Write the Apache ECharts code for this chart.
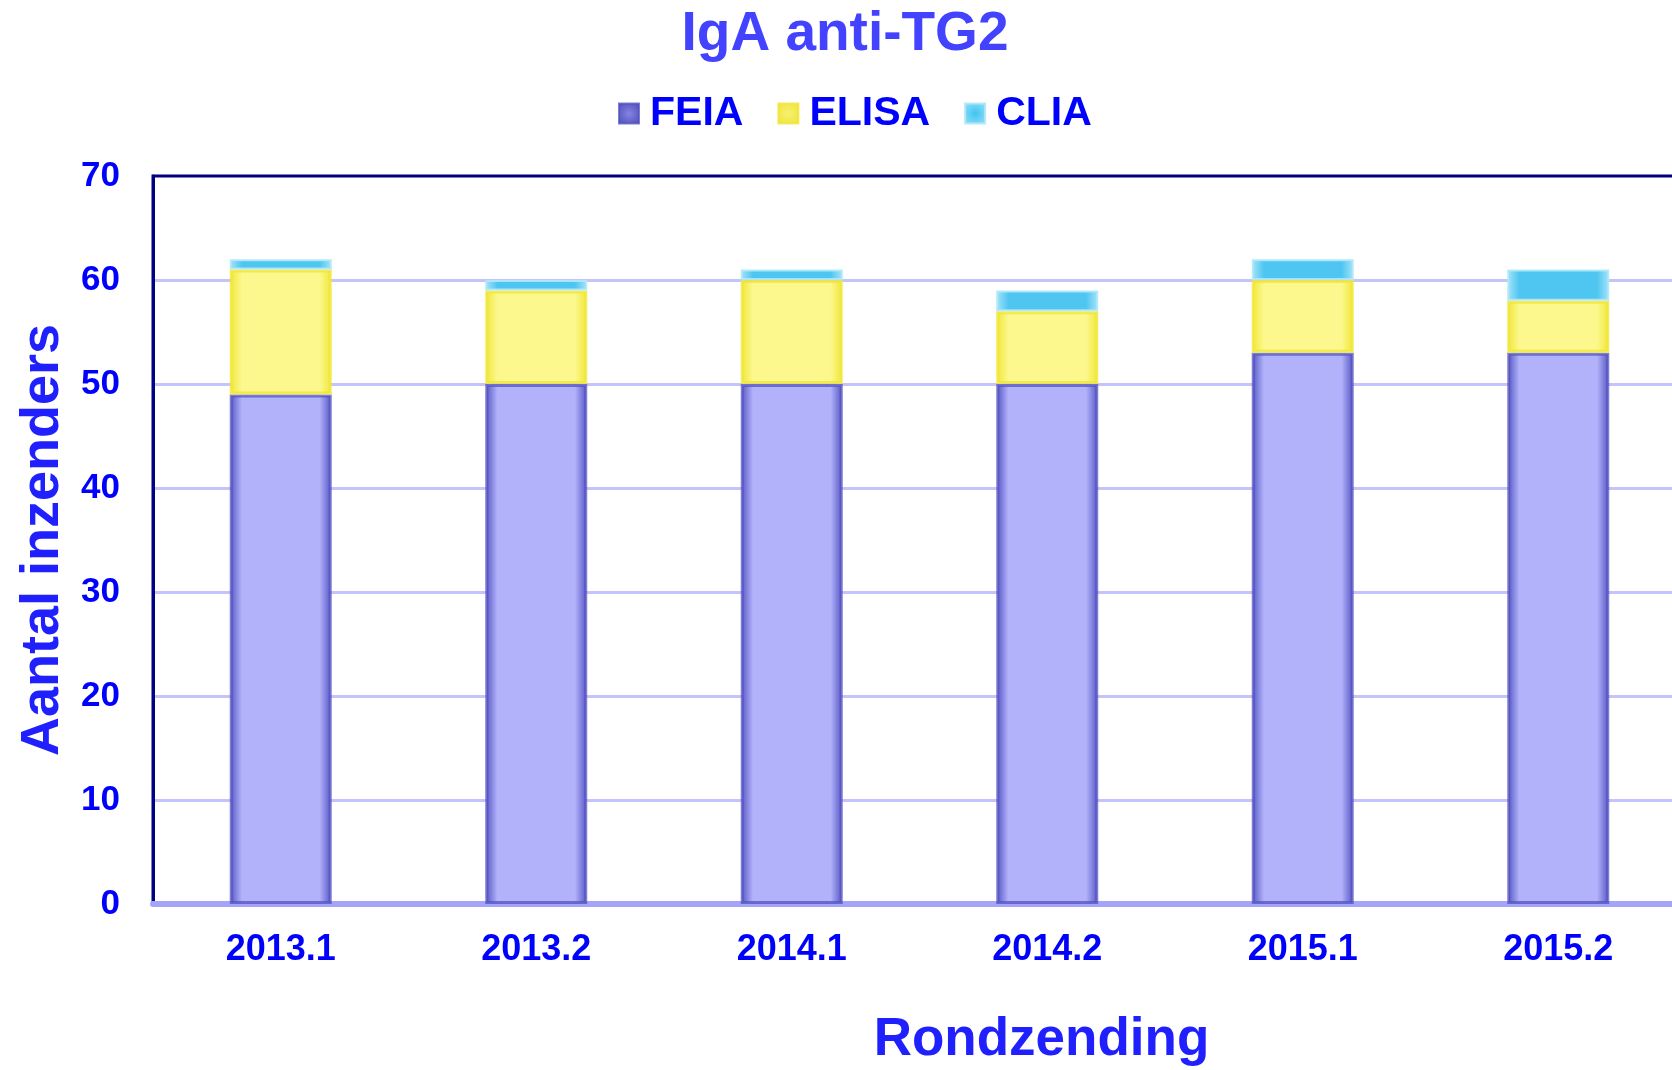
<!DOCTYPE html>
<html>
<head>
<meta charset="utf-8">
<script src="https://cdn.jsdelivr.net/npm/echarts@6/dist/echarts.min.js"></script>
<style>
html,body{margin:0;padding:0;background:#fff;}
#chart{width:1672px;height:1070px;}
</style>
</head>
<body>
<div id="chart"></div>
<script>
const categories = ['2013.1', '2013.2', '2014.1', '2014.2', '2015.1', '2015.2'];
const feia = [49, 50, 50, 50, 53, 53];
const elisa = [12, 9, 10, 7, 7, 5];
const clia = [1, 1, 1, 2, 2, 3];
const seriesNames = ['FEIA', 'ELISA', 'CLIA'];
const yTicks = { min: 0, max: 70, interval: 10 };

const FONT = "'Liberation Sans', Arial, sans-serif";

function hGrad(edge, center) {
  return {
    type: 'linear', x: 0, y: 0, x2: 1, y2: 0,
    colorStops: [
      { offset: 0, color: edge },
      { offset: 0.12, color: center },
      { offset: 0.88, color: center },
      { offset: 1, color: edge }
    ]
  };
}
function rGrad(center, edge) {
  return {
    type: 'radial', x: 0.5, y: 0.5, r: 0.7,
    colorStops: [
      { offset: 0, color: center },
      { offset: 1, color: edge }
    ]
  };
}

const chart = echarts.init(document.getElementById('chart'), null, { renderer: 'canvas' });
chart.setOption({
  backgroundColor: '#ffffff',
  animation: false,
  title: {
    text: 'IgA anti-TG2',
    left: 840, textAlign: 'center',
    top: 2,
    textStyle: { fontFamily: FONT, fontSize: 55, fontWeight: 'bold', color: '#4242ff' }
  },
  legend: {
    data: [
      { name: seriesNames[0], itemStyle: { color: rGrad('#8484e0', '#4a4ab8') } },
      { name: seriesNames[1], itemStyle: { color: rGrad('#f8f070', '#eee236') } },
      { name: seriesNames[2], itemStyle: { color: rGrad('#40c4f2', '#9ae0f8') } }
    ],
    left: 613, top: 88,
    itemWidth: 20, itemHeight: 20, itemGap: 34,
    icon: 'rect',
    textStyle: { fontFamily: FONT, fontSize: 41, fontWeight: 'bold', color: '#0000ff', padding: [0, 0, 0, 6] }
  },
  grid: {
    left: 153, top: 176, width: 1533, height: 728,
    outerBoundsMode: 'none',
    containLabel: false,
    show: true, borderColor: '#000080', borderWidth: 3, backgroundColor: 'transparent'
  },
  xAxis: {
    type: 'category',
    data: categories,
    name: 'Rondzending',
    nameLocation: 'middle',
    nameGap: 110,
    nameTextStyle: { fontFamily: FONT, fontSize: 53, fontWeight: 'bold', color: '#2020ff', padding: [0, 0, 0, 244] },
    axisLine: { lineStyle: { color: '#a4a4f8', width: 6 } },
    axisTick: { show: false },
    axisLabel: { fontFamily: FONT, fontSize: 36, fontWeight: 'bold', color: '#0000ff', margin: 28 }
  },
  yAxis: {
    type: 'value',
    min: yTicks.min, max: yTicks.max, interval: yTicks.interval,
    name: 'Aantal inzenders',
    nameLocation: 'middle',
    nameGap: 79,
    nameTextStyle: { fontFamily: FONT, fontSize: 54, fontWeight: 'bold', color: '#2020ff' },
    axisLine: { show: true, lineStyle: { color: '#000080', width: 3 } },
    axisTick: { show: false },
    axisLabel: { fontFamily: FONT, fontSize: 35, fontWeight: 'bold', color: '#0000ff', margin: 33 },
    splitLine: { showMaxLine: false, lineStyle: { color: '#c4c4fc', width: 3 } }
  },
  series: [
    {
      name: seriesNames[0], type: 'bar', stack: 'total', data: feia, barWidth: 102,
      itemStyle: { color: hGrad('#5252c2', '#b2b2fb'), borderColor: 'rgba(82,82,194,0.75)', borderWidth: 3 }
    },
    {
      name: seriesNames[1], type: 'bar', stack: 'total', data: elisa, barWidth: 102,
      itemStyle: { color: hGrad('#f0e634', '#fcf88e'), borderColor: 'rgba(240,230,52,0.8)', borderWidth: 3 }
    },
    {
      name: seriesNames[2], type: 'bar', stack: 'total', data: clia, barWidth: 102,
      itemStyle: { color: hGrad('#a6e4f8', '#4ec6f1'), borderColor: 'rgba(176,232,250,0.9)', borderWidth: 2 }
    }
  ]
});
</script>
</body>
</html>
